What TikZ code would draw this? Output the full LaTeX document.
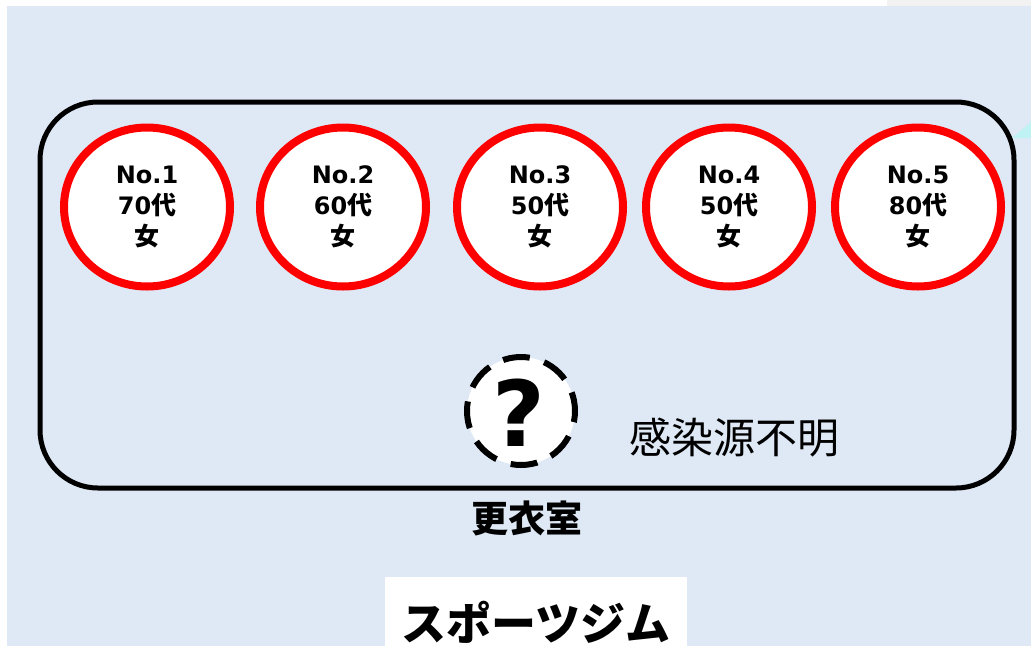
\documentclass[tikz,border=0pt]{standalone}
\usepackage{fontspec}
\setmainfont{Noto Sans CJK JP}
\newfontfamily\latinfont{DejaVu Sans}
\usepackage{tikz}
\usetikzlibrary{shapes.geometric}
\definecolor{roomblue}{HTML}{DEE9F5}
\definecolor{casered}{HTML}{FF0000}
\definecolor{edgecyan}{HTML}{BFF2F2}
\newcommand{\lat}[1]{{\latinfont\fontsize{24}{31}\selectfont\bfseries #1}}
\tikzset{
  casecircle/.style={ellipse, draw=casered, line width=8pt, fill=white,
    minimum width=166pt, minimum height=159pt, inner sep=0pt, align=center,
    font=\fontsize{25}{31}\selectfont\bfseries},
}

\begin{document}
\begin{tikzpicture}[x=1pt, y=-1pt]
  \useasboundingbox (0,0) rectangle (1031,646);
  \clip (0,0) rectangle (1031,646);
  \fill[white] (0,0) rectangle (1031,646);
  \fill[roomblue] (7,6) rectangle (1031,646);
  \fill[gray!10] (887,0) rectangle (1031,6);
  \fill[edgecyan] (1012,138) -- (1031,122) -- (1031,138) -- cycle;

  \draw[line width=5pt, rounded corners=58pt] (40,102) rectangle (1014,488);

  \node[casecircle] (case1) at (147,207) {\lat{No.1}\\\lat{70}代\\女};
  \node[casecircle] (case2) at (343,207) {\lat{No.2}\\\lat{60}代\\女};
  \node[casecircle] (case3) at (540,207) {\lat{No.3}\\\lat{50}代\\女};
  \node[casecircle] (case4) at (729,207) {\lat{No.4}\\\lat{50}代\\女};
  \node[casecircle] (case5) at (918,207) {\lat{No.5}\\\lat{80}代\\女};

  \node[circle, draw, fill=white, line width=6pt, minimum size=108pt,
    dash pattern=on 27pt off 15pt, dash phase=8pt] (unknown) at (521,411) {};
  \node[font=\latinfont\fontsize{91}{91}\selectfont\bfseries, inner sep=0pt] (qmark) at (519,413) {?};
  \node[font=\fontsize{42}{42}\selectfont, inner sep=0pt] (unknownlabel) at (734,438) {感染源不明};

  \node[font=\fontsize{37}{37}\selectfont\bfseries, inner sep=0pt] (roomlabel) at (527,518) {更衣室};

  \node[fill=white, minimum width=302pt, minimum height=90pt,
    font=\fontsize{45}{45}\selectfont\bfseries] (gym) at (536,622) {スポーツジム};
\end{tikzpicture}
\end{document}
